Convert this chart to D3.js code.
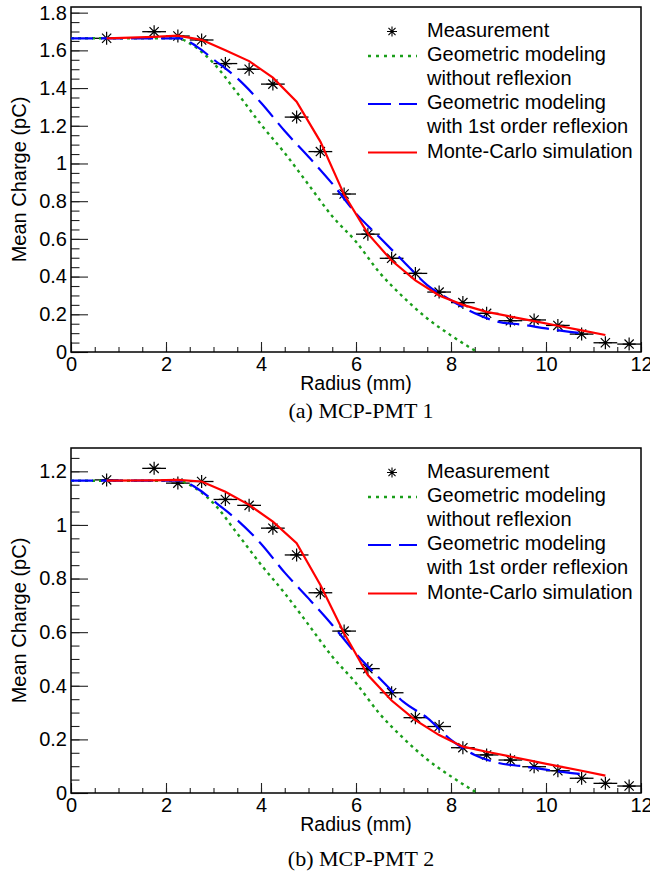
<!DOCTYPE html>
<html>
<head>
<meta charset="utf-8">
<script src="https://cdn.jsdelivr.net/npm/d3@7"></script>
<style>
  body { margin: 0; background: #fff; }
  text { font-family: "Liberation Sans", Arial, sans-serif; }
</style>
</head>
<body>
<div id="chart"></div>
<script>
// Measurement bins (mm)
const radius = [0.75, 1.75, 2.25, 2.75, 3.25, 3.75, 4.25, 4.75, 5.25, 5.75, 6.25,
  6.75, 7.25, 7.75, 8.25, 8.75, 9.25, 9.75, 10.25, 10.75, 11.25, 11.75];
const radiusErr = 0.25;

const measPMT1 = [1.664, 1.699, 1.676, 1.655, 1.53, 1.5, 1.421, 1.246, 1.063, 0.838, 0.625,
  0.497, 0.417, 0.318, 0.262, 0.205, 0.166, 0.17, 0.141, 0.095, 0.049, 0.042];
const measPMT2 = [1.168, 1.211, 1.156, 1.162, 1.095, 1.073, 0.988, 0.888, 0.747, 0.604, 0.464,
  0.374, 0.281, 0.248, 0.169, 0.142, 0.123, 0.098, 0.083, 0.055, 0.036, 0.026];

// Monte-Carlo simulation (same bins, up to 11.25)
const mcRadius = radius.slice(0, 21);
const mcPMT1 = [1.664, 1.672, 1.678, 1.656, 1.6, 1.543, 1.455, 1.328, 1.116, 0.835, 0.628,
  0.485, 0.38, 0.3, 0.25, 0.213, 0.188, 0.164, 0.139, 0.115, 0.09];
const mcPMT2 = [1.165, 1.166, 1.168, 1.162, 1.124, 1.075, 1.012, 0.932, 0.776, 0.596, 0.44,
  0.345, 0.272, 0.216, 0.173, 0.154, 0.136, 0.118, 0.1, 0.083, 0.065];

// Geometric modeling without reflexion
const geoRadius = [0, 2.25, 2.5, 3, 3.5, 4, 4.5, 5, 5.5, 6, 6.5, 7, 7.5, 8, 8.55];
const geoPMT1 = [1.664, 1.664, 1.637, 1.532, 1.374, 1.207, 1.055, 0.888, 0.72, 0.585, 0.42,
  0.29, 0.178, 0.088, 0];
const geoPMT2 = [1.165, 1.165, 1.149, 1.081, 0.968, 0.852, 0.745, 0.628, 0.509, 0.41, 0.295,
  0.204, 0.125, 0.062, 0];

// Geometric modeling with 1st order reflexion
const reflRadius = [0, 2.3, 2.65, 3, 3.5, 4, 4.5, 5, 5.5, 6, 6.5, 7, 7.5, 8, 8.5, 9, 9.5,
  10, 10.5, 10.75];
const reflPMT1 = [1.664, 1.664, 1.62, 1.552, 1.452, 1.322, 1.172, 1.036, 0.893, 0.735, 0.607,
  0.48, 0.355, 0.275, 0.205, 0.16, 0.145, 0.125, 0.107, 0.099];
const reflPMT2 = [1.165, 1.165, 1.137, 1.09, 1.018, 0.93, 0.822, 0.726, 0.627, 0.52, 0.427,
  0.34, 0.28, 0.198, 0.142, 0.112, 0.1, 0.087, 0.075, 0.071];

const legendLabels = [["Measurement"], ["Geometric modeling", "without reflexion"],
  ["Geometric modeling", "with 1st order reflexion"], ["Monte-Carlo simulation"]];
const captions = ["(a) MCP-PMT 1", "(b) MCP-PMT 2"];
const yMax = [1.83, 1.287];
const xTicks = [0, 2, 4, 6, 8, 10, 12];

const width = 650, height = 877;
const svg = d3.select("#chart").append("svg")
  .attr("width", width).attr("height", height);
svg.append("rect").attr("width", width).attr("height", height).attr("fill", "#fff");

const plotLeft = 71, plotRight = 641, plotH = 345;

function starPath(r) {
  const d = r * Math.SQRT1_2;
  return `M${-r},0H${r}M0,${-r}V${r}M${-d},${-d}L${d},${d}M${-d},${d}L${d},${-d}`;
}

function drawPanel(i, top, meas, mc, geo, refl) {
  const g = svg.append("g").attr("transform", `translate(0,${top})`);
  const x = d3.scaleLinear().domain([0, 12]).range([plotLeft, plotRight]);
  const y = d3.scaleLinear().domain([0, yMax[i]]).range([plotH, 0]);

  const clipId = "clip" + i;
  g.append("clipPath").attr("id", clipId).append("rect")
    .attr("x", plotLeft).attr("y", 0).attr("width", plotRight - plotLeft).attr("height", plotH);

  // axes with inward ticks
  const yMajor = d3.range(0, yMax[i], 0.2).map(v => +v.toFixed(2));
  const yMinor = d3.range(0, yMax[i], 0.05).map(v => +v.toFixed(2));
  const xMinor = d3.range(0, 12.01, 0.5);

  g.append("g").attr("transform", `translate(${plotLeft},0)`)
    .call(d3.axisLeft(y).tickValues(yMajor).tickSizeInner(-17).tickSizeOuter(0)
      .tickPadding(4).tickFormat(d => String(+d.toFixed(1))));
  g.append("g").attr("transform", `translate(${plotLeft},0)`)
    .call(d3.axisLeft(y).tickValues(yMinor).tickSize(-8.5).tickFormat(""));
  g.append("g").attr("transform", `translate(0,${plotH})`)
    .call(d3.axisBottom(x).tickValues(xTicks).tickSizeInner(-10).tickSizeOuter(0)
      .tickPadding(5));
  g.append("g").attr("transform", `translate(0,${plotH})`)
    .call(d3.axisBottom(x).tickValues(xMinor).tickSize(-5).tickFormat(""));
  g.selectAll(".domain").remove();
  g.selectAll(".tick line").attr("stroke", "#222").attr("stroke-width", 1.1);
  g.selectAll(".tick text").attr("font-size", 20).attr("fill", "#000")
    .attr("font-family", "Liberation Sans, Arial, sans-serif");

  g.append("rect").attr("x", plotLeft).attr("y", 0)
    .attr("width", plotRight - plotLeft).attr("height", plotH)
    .attr("fill", "none").attr("stroke", "#000").attr("stroke-width", 1.5);

  // axis titles
  g.append("text").attr("x", (plotLeft + plotRight) / 2).attr("y", plotH + 38)
    .attr("text-anchor", "middle").attr("font-size", 19.5).text("Radius (mm)");
  g.append("text").attr("transform", `translate(26,${plotH / 2}) rotate(-90)`)
    .attr("text-anchor", "middle").attr("font-size", 20).text("Mean Charge (pC)");

  const plot = g.append("g").attr("clip-path", `url(#${clipId})`);

  // measurement: error bars + stars
  const pts = radius.map((r, k) => ({ r, v: meas[k] }));
  plot.selectAll(".err").data(pts).enter().append("line")
    .attr("x1", d => x(d.r - radiusErr)).attr("x2", d => x(d.r + radiusErr))
    .attr("y1", d => y(d.v)).attr("y2", d => y(d.v))
    .attr("stroke", "#000").attr("stroke-width", 1.3);
  plot.selectAll(".star").data(pts).enter().append("path")
    .attr("transform", d => `translate(${x(d.r)},${y(d.v)})`)
    .attr("d", starPath(6.5)).attr("stroke", "#000").attr("stroke-width", 1.2)
    .attr("fill", "none");

  const smooth = d3.line().x(d => x(d[0])).y(d => y(d[1])).curve(d3.curveMonotoneX);
  const straight = d3.line().x(d => x(d[0])).y(d => y(d[1]));

  plot.append("path").datum(geoRadius.map((r, k) => [r, geo[k]]))
    .attr("d", smooth).attr("fill", "none").attr("stroke", "#1a9e1a")
    .attr("stroke-width", 2.4).attr("stroke-dasharray", "3,4");
  plot.append("path").datum(reflRadius.map((r, k) => [r, refl[k]]))
    .attr("d", smooth).attr("fill", "none").attr("stroke", "#0000ff")
    .attr("stroke-width", 2.2).attr("stroke-dasharray", "22,8");
  plot.append("path").datum(mcRadius.map((r, k) => [r, mc[k]]))
    .attr("d", straight).attr("fill", "none").attr("stroke", "#ff0000")
    .attr("stroke-width", 2.2);

  // legend
  const lg = g.append("g");
  const textX = 427, symX0 = 368, symX1 = 417;
  const baselines = [[29.5], [53.5, 77.5], [102, 126], [150.5]];
  legendLabels.forEach((lines, k) => {
    lines.forEach((t, j) => {
      lg.append("text").attr("x", textX).attr("y", baselines[k][j])
        .attr("font-size", 20).text(t);
    });
  });
  lg.append("path").attr("transform", "translate(392,24.5)")
    .attr("d", starPath(5)).attr("stroke", "#000").attr("stroke-width", 1.1);
  lg.append("line").attr("x1", symX0).attr("x2", symX1).attr("y1", 49).attr("y2", 49)
    .attr("stroke", "#1a9e1a").attr("stroke-width", 2.4).attr("stroke-dasharray", "3,5");
  lg.append("line").attr("x1", symX0).attr("x2", symX1).attr("y1", 97).attr("y2", 97)
    .attr("stroke", "#0000ff").attr("stroke-width", 2.2).attr("stroke-dasharray", "23,8");
  lg.append("line").attr("x1", symX0).attr("x2", symX1).attr("y1", 145.5).attr("y2", 145.5)
    .attr("stroke", "#ff0000").attr("stroke-width", 2.2);
}

drawPanel(0, 7, measPMT1, mcPMT1, geoPMT1, reflPMT1);
drawPanel(1, 448, measPMT2, mcPMT2, geoPMT2, reflPMT2);

// sub-figure captions
svg.selectAll(".caption").data(captions).enter().append("text")
  .attr("x", 361).attr("y", (d, k) => [418, 866][k])
  .attr("text-anchor", "middle").attr("font-size", 22)
  .style("font-family", "'Liberation Serif', 'Times New Roman', serif")
  .text(d => d);
</script>
</body>
</html>
